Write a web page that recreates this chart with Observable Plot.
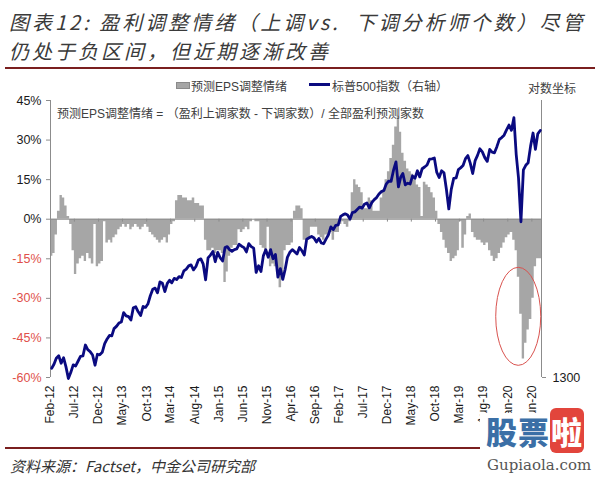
<!DOCTYPE html>
<html><head><meta charset="utf-8">
<script src="https://cdn.jsdelivr.net/npm/d3@7"></script>
<script src="https://cdn.jsdelivr.net/npm/@observablehq/plot@0.6"></script>
<style>
body{margin:0;background:#fff;}
#wrap{position:relative;width:600px;height:477px;overflow:hidden;font-family:"Liberation Sans","Noto Sans CJK SC",sans-serif;}
#chart{position:absolute;left:0;top:0;}
.abs{position:absolute;white-space:nowrap;}
.ttl{font-family:"Noto Sans CJK SC",sans-serif;font-style:italic;font-size:20px;color:#3a3a3a;line-height:29px;letter-spacing:3px;}
.lg{font-size:12px;color:#404040;font-family:"Liberation Sans","Noto Sans CJK SC",sans-serif;}
</style></head><body>
<div id="wrap">
  <div id="chart"></div>
  <div class="abs ttl" style="left:9px;top:7px;">图表12: 盈利调整情绪（上调vs.&nbsp; 下调分析师个数）尽管</div>
  <div class="abs ttl" style="left:9px;top:36px;">仍处于负区间，但近期逐渐改善</div>
  <div class="abs" style="left:5px;top:67px;width:590px;height:2px;background:#7a1f1f"></div>

  <div class="abs" style="left:176px;top:82px;width:12px;height:5px;background:#a6a6a6;border:1px solid #8a8a8a"></div>
  <div class="abs lg" style="left:191px;top:77px;">预测EPS调整情绪</div>
  <div class="abs" style="left:309px;top:83px;width:21px;height:3px;background:#0a0a80"></div>
  <div class="abs lg" style="left:332px;top:77px;">标普500指数（右轴）</div>
  <div class="abs lg" style="left:528px;top:79px;">对数坐标</div>
  <div class="abs lg" style="left:57px;top:104px;">预测EPS调整情绪 = （盈利上调家数 - 下调家数）/ 全部盈利预测家数</div>

  <div class="abs" style="left:5px;top:447px;width:590px;height:2px;background:#7a1f1f"></div>
  <div class="abs" style="left:10px;top:455px;font-family:'Noto Sans CJK SC',sans-serif;font-style:italic;font-size:15px;color:#333;">资料来源：Factset，中金公司研究部</div>

  <div class="abs" style="left:480px;top:413px;width:120px;height:64px;background:#fff;"></div>
  <div class="abs" style="left:486px;top:413px;font-family:'Noto Sans CJK SC',sans-serif;font-size:31px;font-weight:900;color:#3b6fa6;line-height:36px;letter-spacing:1px">股票<span style="background:#e2453c;color:#fff;border-radius:6px;padding:0 1px">啦</span></div>
  <div class="abs" style="left:487px;top:456px;font-family:'DejaVu Serif',serif;font-size:15px;color:#555;line-height:18px">Gupiaola.com</div>
</div>
<script>
// ---- data (semi-monthly, Feb 2012 – Jul 2020) ----
const epsRev2012 = [-14,-13,-6,3,9,8,5,1,-2,-12,-21,-17,-15,-14,-16,-13,-15,-17,-2,-18,-17,-16];
const epsRev2013 = [-1,-9,-8,-9,-7,-6,-4,-3,-2,-3,-2,-4,-3,-2,-3,-4,-3,-2,-3,-5,-6,-7,-8,-9];
const epsRev2014 = [-8,-7,-9,-6,-2,-1,7,9,9,8,8,7,7,8,6,6,5,5,-8,-12,-12,-11,-13,-12];
const epsRev2015 = [-12,-13,-24,-20,-14,-11,-10,-10,-4,-5,-4,-3,-4,-1,0,-1,-1,-10,-11,-13,-3,-18,-17,-18];
const epsRev2016 = [-20,-26,-23,-12,-10,-10,-9,3,5,5,4,-8,-8,-7,-3,-3,-3,-6,-7,-8,-6,-7,-5,-8];
const epsRev2017 = [-5,-5,-2,-1,-2,-3,-1,10,15,13,12,10,4,4,8,7,3,3,3,8,11,15,18,23];
const epsRev2018 = [28,35,39,33,25,22,19,18,17,15,13,12,1,14,13,12,10,8,3,-2,-5,-8,-11,-13];
const epsRev2019 = [-16,-15,-14,-12,-1,-11,-6,1,2,-5,-7,-8,-8,-9,-10,-9,-12,-14,-16,-15,-13,-11,-9,-7];
const epsRev2020 = [-6,-5,-8,-12,-22,-36,-53,-47,-42,-38,-30,-18,-15,-15];

const spx2012 = [1345,1365,1395,1408,1370,1398,1353,1295,1325,1362,1356,1380,1405,1407,1465,1440,1430,1412,1360,1416,1413,1426];
const spx2013 = [1472,1498,1518,1515,1556,1569,1588,1594,1650,1631,1626,1606,1680,1686,1655,1633,1688,1682,1703,1756,1798,1806,1775,1848];
const spx2014 = [1838,1783,1838,1859,1841,1872,1864,1884,1878,1924,1937,1960,1967,1931,1955,2003,2011,1972,1862,2018,2039,2067,1990,2059];
const spx2015 = [2019,1995,2096,2104,2081,2068,2081,2086,2122,2107,2096,2063,2127,2104,2092,1913,1961,1920,2033,2079,2023,2080,2012,2044];
const spx2016 = [1880,1940,1865,1932,2022,2060,2080,2065,2047,2097,2072,2040,2161,2173,2184,2171,2139,2168,2132,2126,2164,2199,2262,2239];
const spx2017 = [2275,2279,2351,2364,2373,2363,2328,2384,2390,2412,2433,2423,2459,2470,2426,2472,2500,2519,2553,2575,2585,2648,2676,2674];
const spx2018 = [2786,2873,2620,2714,2752,2640,2656,2648,2728,2705,2780,2718,2801,2819,2840,2902,2905,2914,2767,2712,2781,2760,2600,2416];
const spx2019 = [2596,2704,2708,2793,2810,2834,2907,2940,2860,2752,2886,2942,3014,2980,2918,2878,3007,2977,2970,3038,3120,3141,3169,3231];
const spx2020 = [3289,3226,3380,2954,2711,2305,2790,2837,2864,3044,3194,3009,3185,3224];

const xTickLabels = ["Feb-12","Jul-12","Dec-12","May-13","Oct-13","Mar-14","Aug-14","Jan-15","Jun-15","Nov-15","Apr-16","Sep-16","Feb-17","Jul-17","Dec-17","May-18","Oct-18","Mar-19","Aug-19","Jan-20","Jun-20"];
const yTicksLeft = [-60,-45,-30,-15,0,15,30,45];
const rightAxisMin = 1300, rightAxisMax = 3600; // log scale (对数坐标)

const eps = [].concat(epsRev2012, epsRev2013, epsRev2014, epsRev2015, epsRev2016, epsRev2017, epsRev2018, epsRev2019, epsRev2020);
const spx = [].concat(spx2012, spx2013, spx2014, spx2015, spx2016, spx2017, spx2018, spx2019, spx2020);

const dateOf = i => new Date(Date.UTC(2012, 1 + Math.floor(i / 2), i % 2 ? 16 : 1));
const rows = eps.map((v, i) => ({
  x1: dateOf(i),
  mid: new Date((+dateOf(i) + +dateOf(i + 1)) / 2),
  eps: v, spx: spx[i]
}));
// step outline for the column fill (last column closed at its end date)
const steps = rows.map(d => ({x: d.x1, eps: d.eps})).concat([{x: dateOf(eps.length), eps: eps[eps.length - 1]}]);
const parseTick = d3.utcParse("%b-%y");
const tickDates = xTickLabels.map(parseTick);
const yMin = -60, yMax = 45;
const toLeft = v => yMin + (yMax - yMin) * Math.log(v / rightAxisMin) / Math.log(rightAxisMax / rightAxisMin);
const axisGrey = "#8c8c8c";
const xDomain = [dateOf(0), dateOf(eps.length)];

const chart = Plot.plot({
  width: 600, height: 450,
  marginLeft: 50, marginRight: 59, marginTop: 100, marginBottom: 73,
  x: {type: "utc", domain: xDomain, label: null},
  y: {domain: [yMin, yMax], label: null},
  style: {fontFamily: "'Liberation Sans', Arial, sans-serif", fontSize: "12px", background: "transparent", overflow: "visible"},
  marks: [
    Plot.areaY(steps, {x: "x", y1: 0, y2: "eps", curve: "step-after", fill: "#a6a6a6"}),
    Plot.ruleY([0], {stroke: axisGrey}),
    Plot.ruleX(tickDates, {y1: 0, y2: -1.1, stroke: axisGrey}),
    Plot.ruleX([xDomain[0]], {stroke: axisGrey}),
    Plot.ruleX([xDomain[1]], {stroke: axisGrey}),
    Plot.lineY(rows, {x: "mid", y: d => toLeft(d.spx), stroke: "#0a0a80", strokeWidth: 2.8, strokeLinejoin: "round"}),
    Plot.axisY(yTicksLeft.filter(d => d >= 0), {anchor: "left", label: null, tickSize: 4, tickPadding: 5, tickFormat: d => d + "%", fill: "#1a1a1a", stroke: axisGrey, fontSize: 12.5}),
    Plot.axisY(yTicksLeft.filter(d => d < 0), {anchor: "left", label: null, tickSize: 4, tickPadding: 5, tickFormat: d => d + "%", fill: "#e0504a", stroke: axisGrey, fontSize: 12.5}),
    Plot.axisY([yMin], {anchor: "right", label: null, tickSize: 4, tickPadding: 7, tickFormat: () => String(rightAxisMin), fill: "#1a1a1a", stroke: axisGrey, fontSize: 12.5}),
    Plot.axisX(tickDates, {anchor: "bottom", label: null, tickSize: 0, tickPadding: 8, tickRotate: -90, tickFormat: d3.utcFormat("%b-%y"), fill: "#1a1a1a", fontSize: 12})
  ]
});
document.getElementById("chart").appendChild(chart);

// red ellipse annotation around the 2020 trough
const xs = chart.scale("x"), ys = chart.scale("y");
d3.select(chart).append("ellipse")
  .attr("cx", xs.apply(new Date(Date.UTC(2020, 2, 10))))
  .attr("cy", ys.apply(-37))
  .attr("rx", 22.5).attr("ry", 49)
  .attr("fill", "none").attr("stroke", "#d9534f").attr("stroke-width", 1);
</script>
</body></html>
